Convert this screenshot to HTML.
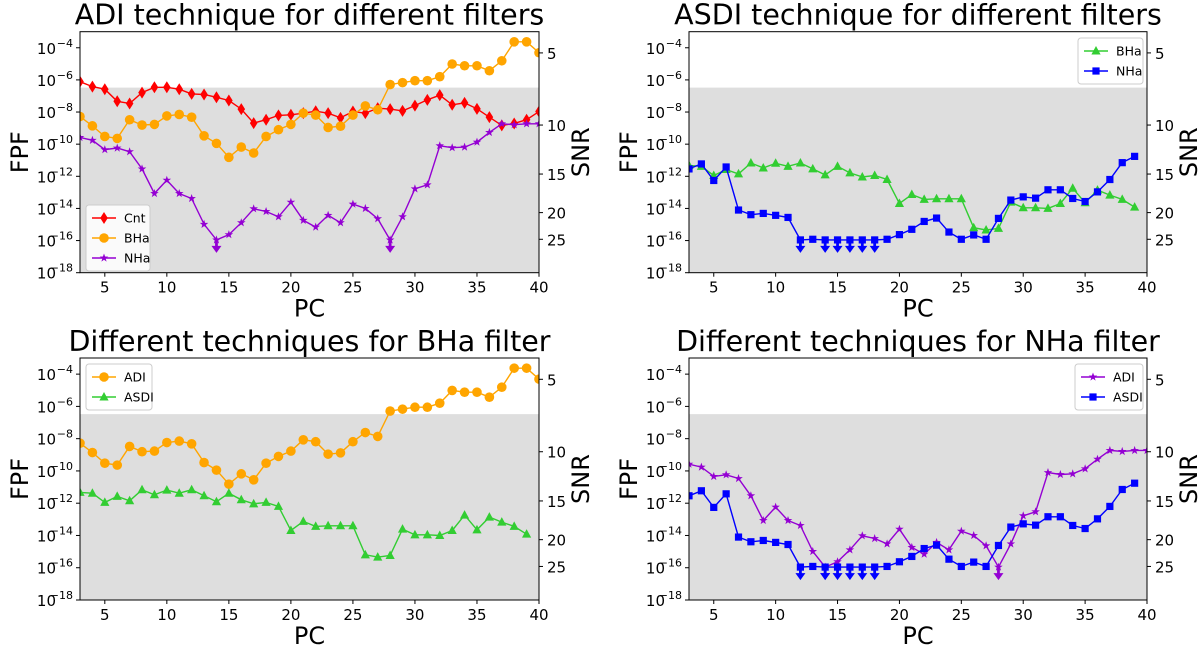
<!DOCTYPE html>
<html><head><meta charset="utf-8"><style>
html,body{margin:0;padding:0;background:#fff;}
svg{display:block;font-family:"DejaVu Sans","Liberation Sans",sans-serif;}
</style></head><body>
<svg id="fig" width="1200" height="649" viewBox="0 0 1200 649" xmlns="http://www.w3.org/2000/svg"></svg>
<script>
const pcValues = [3,4,5,6,7,8,9,10,11,12,13,14,15,16,17,18,19,20,21,22,23,24,25,26,27,28,29,30,31,32,33,34,35,36,37,38,39,40];
const adiCnt = [-6.11,-6.42,-6.58,-7.33,-7.47,-6.79,-6.46,-6.46,-6.58,-6.87,-6.91,-7.08,-7.28,-7.82,-8.69,-8.48,-8.21,-8.17,-8.07,-7.95,-8.07,-8.36,-7.97,-8.07,-7.76,-7.82,-7.93,-7.60,-7.24,-6.95,-7.55,-7.43,-7.80,-8.32,-8.83,-8.71,-8.48,-7.97];
const adiBHa = [-8.28,-8.86,-9.52,-9.64,-8.48,-8.81,-8.77,-8.24,-8.15,-8.32,-9.48,-9.95,-10.82,-10.18,-10.55,-9.52,-9.10,-8.77,-8.07,-8.19,-8.96,-8.88,-8.19,-7.62,-7.86,-6.29,-6.17,-6.05,-6.05,-5.80,-5.01,-5.12,-5.12,-5.43,-4.81,-3.63,-3.63,-4.31];
const adiNHa = [-9.58,-9.76,-10.34,-10.24,-10.47,-11.54,-13.07,-12.24,-13.07,-13.38,-14.99,-15.96,-15.63,-14.89,-14.02,-14.19,-14.52,-13.61,-14.74,-15.16,-14.43,-14.89,-13.73,-14.00,-14.64,-15.96,-14.52,-12.78,-12.53,-10.10,-10.22,-10.18,-9.87,-9.27,-8.73,-8.79,-8.73,-8.73];
const adiNHaLimits = [14,28];
const asdiPC = [3,4,5,6,7,8,9,10,11,12,13,14,15,16,17,18,19,20,21,22,23,24,25,26,27,28,29,30,31,32,33,34,35,36,37,38,39];
const asdiBHa = [-11.33,-11.38,-11.95,-11.58,-11.85,-11.17,-11.48,-11.19,-11.38,-11.17,-11.54,-11.91,-11.38,-11.79,-12.04,-11.95,-12.20,-13.69,-13.13,-13.44,-13.40,-13.40,-13.40,-15.20,-15.34,-15.24,-13.61,-13.96,-13.96,-14.00,-13.69,-12.74,-13.65,-12.86,-13.17,-13.44,-13.92];
const asdiNHa = [-11.54,-11.23,-12.26,-11.42,-14.10,-14.39,-14.31,-14.43,-14.56,-15.96,-15.92,-15.96,-15.96,-15.96,-15.96,-15.96,-15.92,-15.63,-15.30,-14.81,-14.60,-15.47,-15.92,-15.65,-15.92,-14.62,-13.48,-13.28,-13.36,-12.84,-12.84,-13.38,-13.57,-12.97,-12.20,-11.15,-10.76];
const asdiNHaLimits = [12,14,15,16,17,18];
const xTicks = [5,10,15,20,25,30,35,40];
const yTickExp = [-4,-6,-8,-10,-12,-14,-16,-18];
const snrTickLabels = ['5','10','15','20','25'];
const snrTickLogFPF = [-4.32,-8.81,-11.86,-14.26,-15.92];
const thresholdLog = -6.48;

const NS='http://www.w3.org/2000/svg';
const svg=document.getElementById('fig');
function el(tag,attrs,parent){const e=document.createElementNS(NS,tag);for(const k in attrs)e.setAttribute(k,attrs[k]);(parent||svg).appendChild(e);return e;}

const panels=[
 {name:'adi-filters',L:80,R:539,T:31.7,B:272.7,title:'ADI technique for different filters',
  series:[{n:'Cnt',x:pcValues,y:adiCnt,c:'#ff0000',m:'diamond'},{n:'BHa',x:pcValues,y:adiBHa,c:'#ffa500',m:'circle'},{n:'NHa',x:pcValues,y:adiNHa,c:'#9400d3',m:'star',lim:adiNHaLimits}],
  legend:{x:86,y:205,w:64}},
 {name:'asdi-filters',L:689,R:1147,T:31.7,B:272.7,title:'ASDI technique for different filters',
  series:[{n:'BHa',x:asdiPC,y:asdiBHa,c:'#32cd32',m:'tri'},{n:'NHa',x:asdiPC,y:asdiNHa,c:'#0000ff',m:'square',lim:asdiNHaLimits}],
  legend:{x:1078,y:38,w:65}},
 {name:'bha-techniques',L:80,R:539,T:358,B:600,title:'Different techniques for BHa filter',
  series:[{n:'ADI',x:pcValues,y:adiBHa,c:'#ffa500',m:'circle'},{n:'ASDI',x:asdiPC,y:asdiBHa,c:'#32cd32',m:'tri'}],
  legend:{x:86,y:364,w:66}},
 {name:'nha-techniques',L:689,R:1147,T:358,B:600,title:'Different techniques for NHa filter',
  series:[{n:'ADI',x:pcValues,y:adiNHa,c:'#9400d3',m:'star',lim:adiNHaLimits},{n:'ASDI',x:asdiPC,y:asdiNHa,c:'#0000ff',m:'square',lim:asdiNHaLimits}],
  legend:{x:1075,y:364,w:68}}
];

function marker(g,m,x,y,c){
 let e;
 if(m==='circle'){e=el('circle',{cx:x,cy:y,r:4.8,fill:c},g);}
 else if(m==='diamond'){e=el('polygon',{points:`${x},${y-6} ${x+3.8},${y} ${x},${y+6} ${x-3.8},${y}`,fill:c},g);}
 else if(m==='square'){e=el('rect',{x:x-3.6,y:y-3.6,width:7.2,height:7.2,fill:c},g);}
 else if(m==='tri'){e=el('polygon',{points:`${x},${y-5} ${x+4.6},${y+3.5} ${x-4.6},${y+3.5}`,fill:c},g);}
 else {let p=[];for(let i=0;i<10;i++){const r=i%2?1.8:4.5;const a=-Math.PI/2+i*Math.PI/5;p.push((x+r*Math.cos(a)).toFixed(1)+','+(y+r*Math.sin(a)).toFixed(1));}e=el('polygon',{points:p.join(' '),fill:c},g);}
 
 
}

panels.forEach(p=>{
 const g=el('g',{});
 
 
 const sx=v=>p.L+(v-3)/37*(p.R-p.L);
 const sy=v=>p.T+(-3-v)/15*(p.B-p.T);
 const band=el('rect',{x:p.L,y:sy(thresholdLog),width:p.R-p.L,height:p.B-sy(thresholdLog),fill:'#dedede'},g);
 
 
 const clip=el('clipPath',{id:'c'+p.name},g);el('rect',{x:p.L,y:p.T,width:p.R-p.L,height:p.B-p.T},clip);
 const dg=el('g',{'clip-path':`url(#c${p.name})`},g);
 p.series.forEach(s=>{
  const sg=el('g',{},dg);
  
  
  const pts=s.x.map((x,i)=>sx(x).toFixed(1)+','+sy(s.y[i]).toFixed(1)).join(' ');
  el('polyline',{points:pts,fill:'none',stroke:s.c,'stroke-width':1.4},sg);
  s.x.forEach((x,i)=>marker(sg,s.m,sx(x),sy(s.y[i]),s.c));
  (s.lim||[]).forEach(lx=>{const i=s.x.indexOf(lx);const X=sx(lx),Y=sy(s.y[i]);
   const a=el('g',{},sg);
   
   
   el('line',{x1:X,y1:Y,x2:X,y2:Y+10,stroke:s.c,'stroke-width':2.8},a);
   el('polygon',{points:`${X-5},${Y+6} ${X+5},${Y+6} ${X},${Y+13}`,fill:s.c},a);});
 });
 el('rect',{x:p.L,y:p.T,width:p.R-p.L,height:p.B-p.T,fill:'none',stroke:'#000','stroke-width':1},g);
 xTicks.forEach(t=>{el('line',{x1:sx(t),y1:p.B,x2:sx(t),y2:p.B+4,stroke:'#000'},g);
  const tx=el('text',{x:sx(t),y:p.B+20,'font-size':15,'text-anchor':'middle'},g);tx.textContent=t;
  });
 yTickExp.forEach(e=>{const y=sy(e);el('line',{x1:p.L-4,y1:y,x2:p.L,y2:y,stroke:'#000'},g);
  const tx=el('text',{x:p.L-24,y:y+6,'font-size':15,'text-anchor':'end'},g);tx.textContent='10';
  
  const sup=el('text',{x:p.L-7,y:y-1,'font-size':11,'text-anchor':'end'},g);sup.textContent='\u2212'+(-e);});
 snrTickLabels.forEach((t,i)=>{const y=sy(snrTickLogFPF[i]);el('line',{x1:p.R,y1:y,x2:p.R+4,y2:y,stroke:'#000'},g);
  const tx=el('text',{x:p.R+8,y:y+6,'font-size':15},g);tx.textContent=t;
  });
 const ti=el('text',{x:(p.L+p.R)/2,y:p.T-7,'font-size':28.5,'text-anchor':'middle'},g);ti.textContent=p.title;
 
 const cy=(p.T+p.B)/2;
 const fl=el('text',{x:0,y:0,'font-size':24,'text-anchor':'middle',transform:`translate(${p.L-52},${cy}) rotate(-90)`},g);fl.textContent='FPF';
 
 const sl=el('text',{x:0,y:0,'font-size':24,'text-anchor':'middle',transform:`translate(${p.R+50},${cy}) rotate(-90)`},g);sl.textContent='SNR';
 
 const xl=el('text',{x:(p.L+p.R)/2,y:p.B+44,'font-size':24,'text-anchor':'middle'},g);xl.textContent='PC';
 
 const lg=el('g',{},g);
 
 
 const n=p.series.length,h=n*20+6;
 el('rect',{x:p.legend.x,y:p.legend.y,width:p.legend.w,height:h,rx:3,fill:'#fff','fill-opacity':0.85,stroke:'#ccc'},lg);
 p.series.forEach((s,i)=>{const y=p.legend.y+13+i*20,x0=p.legend.x+6;
  const en=el('g',{},lg);
  
  
  el('line',{x1:x0,y1:y,x2:x0+24,y2:y,stroke:s.c,'stroke-width':1.4},en);
  marker(en,s.m,x0+12,y,s.c);
  const t=el('text',{x:x0+32,y:y+4.5,'font-size':12.5},en);t.textContent=s.n;});
});
</script>
</body></html>
